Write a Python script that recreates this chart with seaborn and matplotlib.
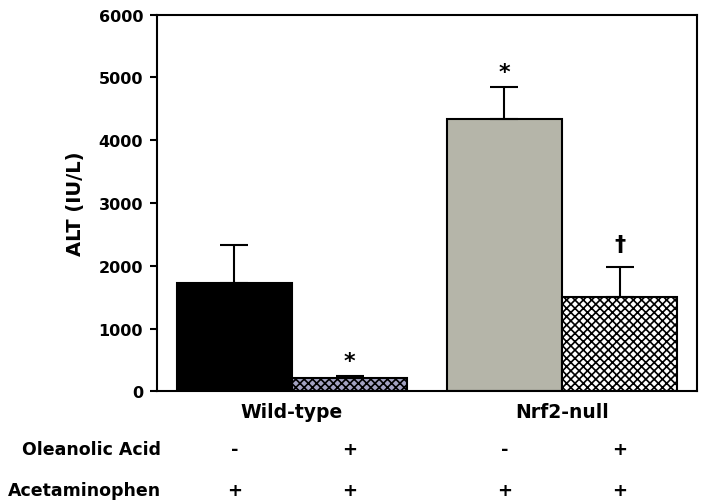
import pandas as pd
import seaborn as sns
import matplotlib.pyplot as plt
from matplotlib.transforms import blended_transform_factory

# valores (ALT en IU/L, media y error estandar)
genotype = ['Wild-type', 'Wild-type', 'Nrf2-null', 'Nrf2-null']
oleanolic = ['-', '+', '-', '+']
acetaminophen = ['+', '+', '+', '+']
alt_mean = [1730, 210, 4340, 1500]
alt_se = [600, 35, 510, 485]
marks = ['', '*', '*', '\u2020']

df = pd.DataFrame({'genotype': genotype, 'oa': oleanolic, 'alt': alt_mean, 'se': alt_se, 'mark': marks})

sns.set_style('white')
plt.rcParams['font.family'] = ['DejaVu Sans']
plt.rcParams['font.weight'] = 'bold'
plt.rcParams['text.color'] = 'black'
plt.rcParams['axes.labelcolor'] = 'black'
plt.rcParams['xtick.color'] = 'black'
plt.rcParams['ytick.color'] = 'black'
plt.rcParams['hatch.linewidth'] = 1.2

fig = plt.figure(figsize=(7.05, 5.02), dpi=100)
ax = fig.add_axes([0.2227, 0.2185, 0.766, 0.7505])

sns.barplot(data=df, x='genotype', y='alt', hue='oa', hue_order=['-', '+'],
            width=0.855, gap=0, errorbar=None, legend=False, ax=ax)

# estilo de cada barra: (relleno, trama)
estilos = {('Wild-type', '-'): ('black', ''),
           ('Wild-type', '+'): ('#a3a2c2', 'xxxx'),
           ('Nrf2-null', '-'): ('#b5b5a9', ''),
           ('Nrf2-null', '+'): ('white', 'xxxx')}
geno_order = ['Wild-type', 'Nrf2-null']
centros = {}
for i, lvl in enumerate(['-', '+']):
    for j, bar in enumerate(ax.containers[i]):
        g = geno_order[j]
        fc, hatch = estilos[(g, lvl)]
        bar.set_facecolor(fc)
        bar.set_hatch(hatch)
        bar.set_edgecolor('black')
        bar.set_linewidth(1.5)
        centros[(g, lvl)] = bar.get_x() + bar.get_width() / 2

xs = [centros[(g, o)] for g, o in zip(genotype, oleanolic)]
ax.errorbar(xs, alt_mean, yerr=[[0] * 4, alt_se], fmt='none', ecolor='black',
            elinewidth=1.5, capsize=10, capthick=1.5, zorder=1)

for x, m, s, mk in zip(xs, alt_mean, alt_se, marks):
    if mk == '*':
        ax.text(x, m + s + 240, mk, ha='center', va='center', fontsize=16, fontweight='bold')
    elif mk:
        ax.text(x, m + s + 355, mk, ha='center', va='center', fontsize=16, fontweight='bold')

ax.set_xlim(-0.5, 1.5)
ax.set_ylim(0, 6000)
ax.set_yticks(range(0, 6001, 1000))
ax.set_xlabel('')
ax.set_ylabel('ALT (IU/L)', fontsize=14, fontweight='bold', labelpad=10)
ax.tick_params(axis='y', direction='out', length=5, width=1.5, labelsize=11.5, left=True, pad=5)
ax.tick_params(axis='x', length=0, labelsize=13.5, pad=8)
for lab in ax.get_xticklabels() + ax.get_yticklabels():
    lab.set_fontweight('bold')
for sp in ax.spines.values():
    sp.set_visible(True)
    sp.set_color('black')
    sp.set_linewidth(1.5)

# tabla de tratamientos bajo el eje
trans = blended_transform_factory(ax.transData, fig.transFigure)
filas = [('Oleanolic Acid', oleanolic, 0.094), ('Acetaminophen', acetaminophen, 0.012)]
for nombre, signos, yf in filas:
    fig.text(0.228, yf, nombre, ha='right', va='baseline', fontsize=12.5, fontweight='bold')
    for x, s in zip(xs, signos):
        ax.text(x, yf, s, transform=trans, ha='center', va='baseline', fontsize=13, fontweight='bold')

fig.savefig('out.png', dpi=100)
